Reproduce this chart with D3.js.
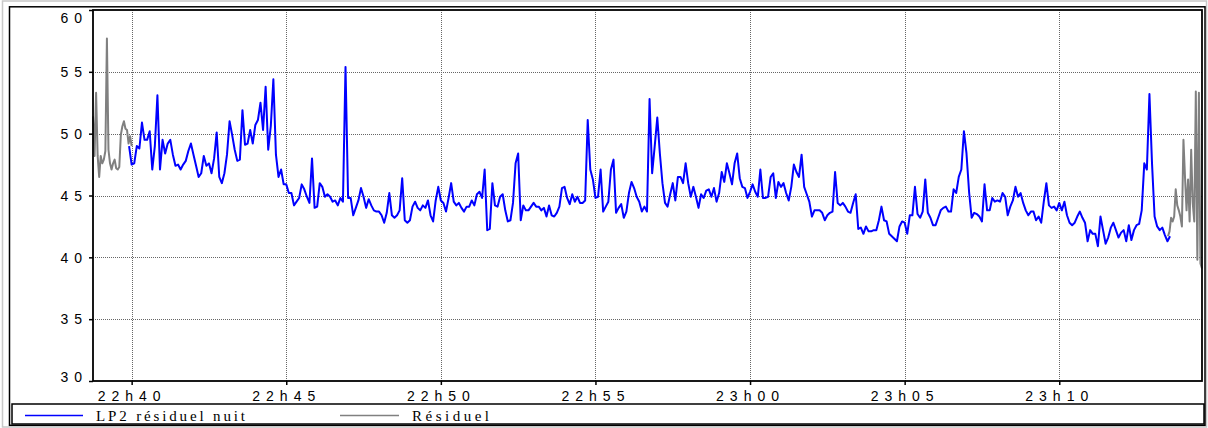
<!DOCTYPE html>
<html>
<head>
<meta charset="utf-8">
<script src="https://cdn.jsdelivr.net/npm/d3@7"></script>
<style>
  body { margin: 0; background: #fff; }
  svg { display: block; }
  .axis text { font-family: "Liberation Sans", Arial, sans-serif; font-size: 14px; letter-spacing: 6px; fill: #000; }
  .legend text { font-family: "Liberation Serif", "Times New Roman", serif; font-size: 15px; fill: #000; }
</style>
</head>
<body>
<svg id="chart" width="1208" height="428"></svg>
<script>
// time window of the chart (22h38:45 -> 23h14:37)
var timeStart = "22:38:45";
var timeEnd = "23:14:37";

// y axis
var yTicks = [30, 35, 40, 45, 50, 55, 60];

// "LP2 résiduel nuit" : one value every 5 s from 22:39:55
var lp2Start = "22:39:55";
var lp2Step = 5;
var lp2Values = [
  49.0, 47.5, 47.6, 49.0, 48.8, 50.9, 49.5, 49.5, 50.2, 47.1,
  49.0, 53.1, 47.1, 49.5, 48.4, 49.2, 49.5, 48.3, 47.4, 47.5,
  47.1, 47.5, 47.8, 48.6, 49.2, 48.3, 47.4, 46.5, 46.8, 48.2,
  47.4, 47.6, 46.8, 48.0, 50.1, 46.5, 46.0, 46.8, 48.3, 51.0,
  49.9, 48.7, 47.8, 47.9, 51.9, 49.1, 49.2, 50.3, 49.2, 50.7,
  51.1, 52.5, 50.3, 53.8, 48.7, 50.6, 54.4, 48.3, 46.5, 47.1,
  45.9, 45.9, 45.2, 45.2, 44.2, 44.5, 44.8, 45.9, 45.5, 44.9,
  44.4, 48.0, 44.0, 44.1,
  46.0, 45.7, 44.9, 45.1, 44.9, 44.5, 44.6, 44.2, 44.8, 44.5,
  55.4, 44.8, 44.8, 43.4, 44.0, 44.6, 45.6, 44.9, 44.0, 44.7,
  44.2, 43.8, 43.7, 43.7, 43.4, 42.8, 43.6, 45.2, 43.4, 43.2,
  43.4, 43.8, 46.4, 43.0, 42.8, 43.0, 44.1, 44.5, 44.0, 43.8,
  44.2, 44.0, 44.6, 43.4, 42.9, 44.6, 45.7, 44.6, 44.4, 43.7,
  44.8, 46.0, 44.5, 44.2, 44.4, 44.0, 43.7, 44.1, 44.1, 44.6,
  44.2, 45.1, 45.3, 44.8, 47.1, 42.2, 42.3, 46.0, 44.2, 44.1,
  44.9, 45.1, 43.8, 42.9, 43.0, 44.4, 47.6, 48.4, 43.0, 44.2,
  43.8, 43.8, 44.1, 44.4, 44.1, 44.1,
  43.8, 44.0, 43.3, 44.2, 43.4, 43.3, 43.6, 44.1, 45.6, 45.7,
  44.8, 44.3, 45.1, 44.5, 44.9, 44.4, 44.4, 44.6, 51.1, 47.1,
  46.3, 44.8, 44.9, 47.1, 43.7, 44.1, 44.5, 47.1, 47.9, 43.6,
  44.0, 44.3, 43.2, 43.7, 45.2, 46.1, 45.6, 44.9, 44.5, 43.7,
  44.1, 43.7, 52.8, 46.8, 49.0, 51.3, 48.4, 46.0, 44.4, 44.1,
  45.1, 46.0, 44.6, 46.5, 46.5, 46.0, 47.6, 46.0, 44.9, 45.7,
  44.9, 44.0, 45.1, 44.8, 45.4, 45.5, 44.9, 45.6, 44.5, 45.2,
  46.9, 46.1, 47.6, 46.8, 45.9, 47.6, 48.4, 46.4, 45.7, 45.6,
  44.8, 45.3, 45.9, 45.3, 44.9, 47.1,
  44.8, 44.8, 44.9, 46.5, 46.8, 44.8, 46.1, 45.7, 46.0, 45.2,
  44.6, 45.7, 47.5, 46.9, 46.5, 48.3, 45.7, 45.1, 44.5, 43.3,
  43.8, 43.8, 43.8, 43.6, 43.0, 43.4, 43.6, 43.7, 46.9, 44.4,
  44.2, 44.4, 44.1, 43.7, 43.6, 44.4, 45.1, 42.3, 42.4, 41.9,
  42.5, 42.1, 42.1, 42.2, 42.2, 43.0, 44.1, 43.0, 42.9, 41.9,
  41.7, 41.5, 41.3, 42.5, 42.9, 42.8, 41.9, 43.4, 43.4, 45.7,
  43.5, 43.2, 43.7, 46.3, 43.6, 43.2, 42.6, 42.6, 43.2, 43.8,
  44.0, 44.1, 43.7, 43.7, 45.5, 45.2, 46.5, 47.1, 50.2, 48.4,
  45.3, 43.2, 43.6, 43.5, 43.3, 42.9,
  45.9, 43.8, 43.8, 44.8, 44.5, 44.6, 44.5, 45.2, 44.9, 43.4,
  44.1, 44.6, 45.7, 44.9, 45.2, 44.4, 43.8, 43.4, 43.7, 43.7,
  43.0, 43.3, 42.8, 44.5, 46.0, 44.2, 44.0, 44.1, 43.8, 44.4,
  43.8, 44.5, 43.4, 42.8, 42.6, 42.8, 43.3, 43.7, 43.2, 42.8,
  41.3, 42.2, 41.9, 41.9, 40.9, 43.3, 42.2, 41.1, 41.6, 42.4,
  42.8, 42.2, 41.6, 42.0, 42.2, 41.3, 42.6, 41.4, 42.2, 42.6,
  42.7, 43.8, 47.6, 47.1, 53.2, 47.6, 43.3, 42.5, 42.2, 42.4,
  41.8, 41.3, 41.7
];

// "Résiduel" : only visible before and after the LP2 series, one value every 3 s
var resStep = 3;
var resStartA = "22:38:45";
var resValuesA = [
  51.4, 48.2, 53.3, 48.2, 46.5, 48.2, 47.6, 47.9, 48.6, 57.7,
  48.7, 47.6, 47.1, 47.6, 47.9, 47.2, 47.1, 47.3, 49.9, 50.6,
  51.0, 50.4, 50.3, 49.2, 49.8, 49.0
];
var resStartB = "23:13:31";
var resValuesB = [
  41.7, 42.1, 43.2, 42.9, 43.3, 45.5, 44.2, 43.8, 43.3, 42.5,
  49.5, 46.5, 43.8, 46.3, 42.9, 48.7, 44.4, 42.9, 53.4, 39.8,
  53.3, 39.5, 39.1
];

var legendItems = [
  {label: "LP2 résiduel nuit", color: "#0000ff"},
  {label: "Résiduel", color: "#808080"}
];

var parseT = d3.timeParse("%H:%M:%S");

// turn a start time + step + values into points
function toSeries(start, step, values) {
  var t0 = parseT(start);
  return values.map(function(v, i) {
    return {t: d3.timeSecond.offset(t0, i * step), v: v};
  });
}

var svg = d3.select("#chart");
var plot = {left: 93, top: 10, right: 1202, bottom: 381};

var x = d3.scaleTime()
  .domain([parseT(timeStart), parseT(timeEnd)])
  .range([plot.left, plot.right]);
var y = d3.scaleLinear()
  .domain([30, 60])
  .range([plot.bottom, plot.top]);

// outer frames
svg.append("rect").attr("x", 2.5).attr("y", 1).attr("width", 1204).attr("height", 426)
  .attr("fill", "none").attr("stroke", "#c8c8c8").attr("stroke-width", 1.5);
svg.append("rect").attr("x", 9.5).attr("y", 6.8).attr("width", 1195.5).attr("height", 418.5)
  .attr("fill", "none").attr("stroke", "#000").attr("stroke-width", 1.5);

// grid
var xTicks = x.ticks(d3.timeMinute.every(5));
var grid = svg.append("g").attr("stroke", "#666").attr("stroke-width", 1).attr("stroke-dasharray", "1,1");
grid.selectAll(".gx").data(xTicks).enter().append("line")
  .attr("x1", function(d) { return Math.round(x(d)) + 0.5; })
  .attr("x2", function(d) { return Math.round(x(d)) + 0.5; })
  .attr("y1", plot.top).attr("y2", plot.bottom);
grid.selectAll(".gy").data(yTicks.slice(1, -1)).enter().append("line")
  .attr("x1", plot.left).attr("x2", plot.right)
  .attr("y1", function(d) { return Math.round(y(d)) + 0.5; })
  .attr("y2", function(d) { return Math.round(y(d)) + 0.5; });

// lines
var line = d3.line()
  .x(function(d) { return x(d.t); })
  .y(function(d) { return y(d.v); });

var lines = svg.append("g").attr("fill", "none").attr("stroke-width", 2).attr("stroke-linejoin", "round");
[toSeries(resStartA, resStep, resValuesA), toSeries(resStartB, resStep, resValuesB)].forEach(function(s) {
  lines.append("path").datum(s).attr("stroke", "#808080").attr("d", line);
});
lines.append("path").datum(toSeries(lp2Start, lp2Step, lp2Values))
  .attr("stroke", "#0000ff").attr("d", line);

// plot border
svg.append("rect").attr("x", plot.left).attr("y", plot.top)
  .attr("width", plot.right - plot.left).attr("height", plot.bottom - plot.top)
  .attr("fill", "none").attr("stroke", "#000").attr("stroke-width", 1.8);

// axes
var xAxis = svg.append("g").attr("class", "axis")
  .attr("transform", "translate(0," + plot.bottom + ")")
  .call(d3.axisBottom(x).tickValues(xTicks).tickSize(4).tickPadding(6.5).tickFormat(d3.timeFormat("%Hh%M")));
xAxis.select(".domain").remove();
xAxis.selectAll("line").attr("stroke", "#000").attr("stroke-width", 1.5);

var yAxis = svg.append("g").attr("class", "axis")
  .attr("transform", "translate(" + plot.left + ",0)")
  .call(d3.axisLeft(y).tickValues(yTicks).tickSize(4).tickPadding(1));
yAxis.select(".domain").remove();
yAxis.selectAll("line").attr("stroke", "#000").attr("stroke-width", 1.5);
// labels stay inside the plot height
yAxis.selectAll("text")
  .attr("dy", null)
  .attr("y", function(d) {
    var base = Math.max(plot.top + 12.7, Math.min(plot.bottom + 0.7, y(d) + 4.8));
    return base - y(d);
  });

// legend
svg.append("rect").attr("x", 12).attr("y", 404).attr("width", 1192).attr("height", 20)
  .attr("fill", "none").attr("stroke", "#000").attr("stroke-width", 1.5);
var legend = svg.append("g").attr("class", "legend");
var legendPos = [{x0: 25, x1: 83, tx: 96, tl: 149}, {x0: 340, x1: 399, tx: 412, tl: 77}];
legendItems.forEach(function(item, i) {
  var p = legendPos[i];
  legend.append("line").attr("x1", p.x0).attr("x2", p.x1).attr("y1", 415.5).attr("y2", 415.5)
    .attr("stroke", item.color).attr("stroke-width", 1.3);
  legend.append("text").attr("x", p.tx).attr("y", 421)
    .attr("textLength", p.tl).attr("lengthAdjust", "spacing")
    .text(item.label);
});
</script>
</body>
</html>
